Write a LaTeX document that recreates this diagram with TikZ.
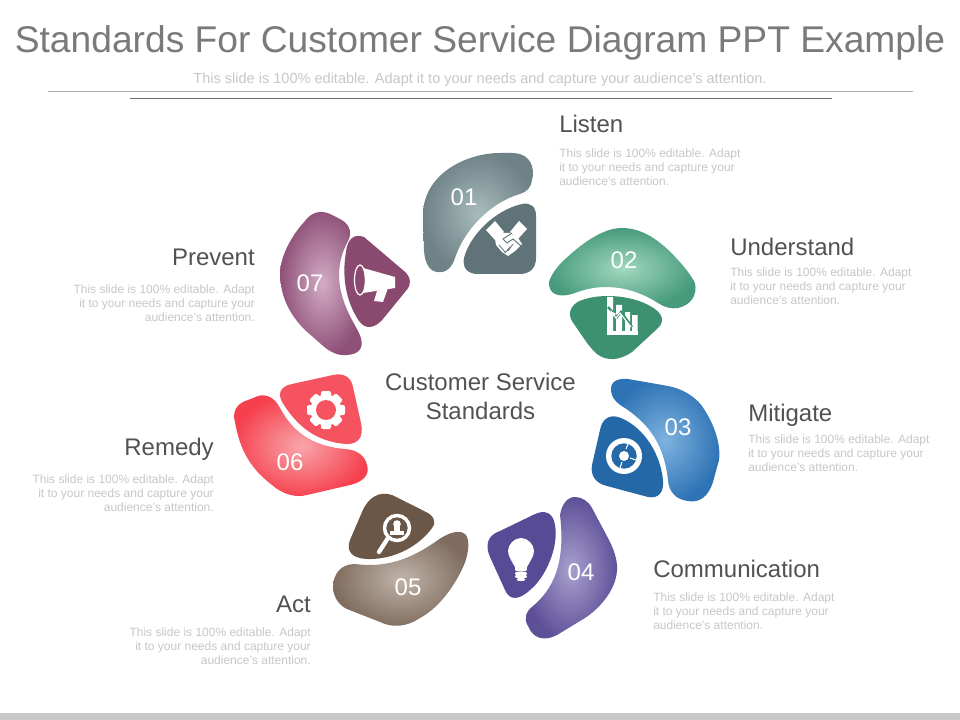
\documentclass[tikz,border=0pt]{standalone}
\usepackage{fontspec}
\usetikzlibrary{calc}
\setmainfont{Liberation Sans}
\definecolor{cA}{HTML}{5F7379}\definecolor{cAo}{HTML}{6E8288}\definecolor{cAi}{HTML}{A8BCBB}
\definecolor{cB}{HTML}{3D9070}\definecolor{cBo}{HTML}{479B7C}\definecolor{cBi}{HTML}{A3D8C0}
\definecolor{cC}{HTML}{2468A8}\definecolor{cCo}{HTML}{2E73B5}\definecolor{cCi}{HTML}{7FB2DF}
\definecolor{cD}{HTML}{574B95}\definecolor{cDo}{HTML}{5E5098}\definecolor{cDi}{HTML}{A9A0CE}
\definecolor{cE}{HTML}{6B5748}\definecolor{cEo}{HTML}{7F6C5E}\definecolor{cEi}{HTML}{C0B4A9}
\definecolor{cF}{HTML}{F4535F}\definecolor{cFo}{HTML}{F6404E}\definecolor{cFi}{HTML}{F8A6AB}
\definecolor{cG}{HTML}{8A4A70}\definecolor{cGo}{HTML}{8F5078}\definecolor{cGi}{HTML}{D2ADC4}
\tikzset{
  blob/.style={inner color=#1i,outer color=#1o},
  tile/.style={fill=#1},
  rnd/.style={to path={.. controls ($(\tikztostart)!0.62!#1$) and ($(\tikztotarget)!0.62!#1$) .. (\tikztotarget)}},
  num/.style={text=white,font=\fontsize{18}{20}\selectfont,inner sep=0pt},
  heading/.style={text=black!68,font=\fontsize{18}{20}\selectfont,inner sep=0pt},
  bodyl/.style={text=black!22,font=\fontsize{9}{10.5}\selectfont,inner sep=0pt,align=left,anchor=west},
  bodyr/.style={text=black!22,font=\fontsize{9}{10.5}\selectfont,inner sep=0pt,align=right,anchor=east},
}
\begin{document}
\begin{tikzpicture}[x=0.75pt,y=-0.75pt]
\useasboundingbox (0,0) rectangle (960,720);
\fill[white] (0,0) rectangle (960,720);
\fill[black!22] (0,713) rectangle (960,720);
\node[inner sep=0pt,text=black!52,font=\fontsize{27.9}{30}\selectfont] (title) at (480,42.5) {Standards For Customer Service Diagram PPT Example};
\node[inner sep=0pt,text=black!22,font=\fontsize{10.9}{12}\selectfont] (sub) at (480,79.5) {This slide is 100\% editable. Adapt it to your needs and capture your audience's attention.};
\draw[black!32,line width=0.6pt] (48,91.5) -- (913,91.5);
\draw[black!58,line width=0.7pt] (130,98.5) -- (832,98.5);
% 01
\path[blob=cA] (423,215) .. controls (423,175) and (465,153) .. (500,153) -- (512,153) to[rnd={(534,153)}] (533,175) -- (532,180) to[rnd={(531,191)}] (520,194) .. controls (492,202) and (465,228) .. (455,258) to[rnd={(450,274)}] (438,272) to[rnd={(425,272)}] (424,250) -- cycle;
\path[tile=cA] (522,204) to[rnd={(536,201)}] (536,216) -- (536,258) to[rnd={(536,274)}] (520,274) -- (478,274) to[rnd={(461,274)}] (464,258) .. controls (470,235) and (495,210) .. (522,204) -- cycle;
\node[num] (n1) at (464,197) {01};
% 02
\path[blob=cB] (549,282) to[rnd={(552,272)}] (562,262) .. controls (585,240) and (605,228) .. (622,228) .. controls (642,228) and (660,240) .. (678,260) to[rnd={(690,273)}] (695,283) to[rnd={(699,303)}] (678,308) to[rnd={(668,310)}] (658,303) .. controls (630,285) and (600,283) .. (575,293) to[rnd={(548,302)}] (549,282) -- cycle;
\path[tile=cB] (570,312) to[rnd={(572,303)}] (582,300) .. controls (605,292) and (635,297) .. (650,306) to[rnd={(671,317)}] (657,329) -- (632,352) to[rnd={(612,366)}] (597,354) to[rnd={(591,349)}] (585,340) -- (574,324) to[rnd={(569,318)}] (570,312) -- cycle;
\node[num] (n2) at (624,260) {02};
% 03
\path[blob=cC] (612,395) to[rnd={(606,377)}] (628,379) -- (668,386) to[rnd={(690,390)}] (702,406) .. controls (715,425) and (721,445) .. (719,460) -- (713,482) to[rnd={(706,505)}] (688,501) to[rnd={(669,499)}] (668,480) .. controls (664,445) and (650,425) .. (625,408) to[rnd={(614,402)}] (612,395) -- cycle;
\path[tile=cC] (592,465) -- (600,430) to[rnd={(603,413)}] (618,417) .. controls (640,424) and (660,450) .. (663,480) to[rnd={(665,500)}] (648,497) -- (607,486) to[rnd={(589,482)}] (592,465) -- cycle;
\node[num] (n3) at (678,427) {03};
% 04
\path[blob=cD] (560,515) to[rnd={(563,497)}] (575,497) to[rnd={(586,497)}] (592,508) -- (609,540) to[rnd={(618,557)}] (617,570) .. controls (616,590) and (600,608) .. (585,618) -- (557,635) to[rnd={(536,646)}] (528,626) to[rnd={(521,615)}] (533,606) .. controls (552,590) and (566,565) .. (560,515) -- cycle;
\path[tile=cD] (490,557) to[rnd={(481,537)}] (500,531) -- (533,515) to[rnd={(552,505)}] (555,525) .. controls (559,548) and (545,578) .. (530,590) to[rnd={(512,607)}] (505,590) -- (490,557) -- cycle;
\node[num] (n4) at (581,572) {04};
% 05
\path[blob=cE] (333,588) to[rnd={(333,564)}] (355,564) .. controls (385,568) and (410,560) .. (438,540) to[rnd={(458,526)}] (466,535) to[rnd={(472,545)}] (464,565) .. controls (452,592) and (435,610) .. (420,618) to[rnd={(400,632)}] (380,622) -- (347,609) to[rnd={(334,603)}] (333,588) -- cycle;
\path[tile=cE] (350,540) -- (362,512) to[rnd={(372,488)}] (392,495) -- (424,511) to[rnd={(440,518)}] (432,528) .. controls (420,545) and (395,560) .. (367,559) to[rnd={(343,558)}] (350,540) -- cycle;
\node[num] (n5) at (408,587) {05};
% 06
\path[blob=cF] (235,422) to[rnd={(230,405)}] (248,400) -- (258,396) to[rnd={(272,392)}] (280,408) .. controls (292,430) and (310,446) .. (345,449) to[rnd={(364,450)}] (367,465) to[rnd={(372,480)}] (350,485) -- (307,495) to[rnd={(289,500)}] (272,485) .. controls (250,468) and (240,450) .. (235,422) -- cycle;
\path[tile=cF] (292,384) -- (333,375) to[rnd={(350,371)}] (353,387) -- (361,423) to[rnd={(366,445)}] (346,444) .. controls (320,442) and (300,430) .. (284,405) to[rnd={(272,388)}] (292,384) -- cycle;
\node[num] (n6) at (290,462) {06};
% 07
\path[blob=cG] (280,272) .. controls (281,255) and (292,235) .. (305,221) to[rnd={(315,207)}] (330,214) -- (338,218) to[rnd={(356,226)}] (348,241) .. controls (335,265) and (336,290) .. (352,320) -- (359,333) to[rnd={(369,354)}] (347,355) to[rnd={(335,357)}] (322,345) -- (305,330) .. controls (285,310) and (280,290) .. (280,272) -- cycle;
\path[tile=cG] (346,252) to[rnd={(348,231)}] (364,237) -- (404,271) to[rnd={(416,281)}] (405,292) -- (383,319) to[rnd={(369,335)}] (359,321) .. controls (345,300) and (342,275) .. (346,252) -- cycle;
\node[num] (n7) at (310,283) {07};
% handshake icon
\fill[white] (486,230)--(495,221)--(504,232)--(495,240)--cycle;
\fill[white] (510,232)--(519,221)--(527,229)--(518,239)--cycle;
\fill[white] (495,239)--(503,233)--(510,233)--(518,238)--(522,244)--(515,251)--(508,256)--(502,252)--(496,245)--cycle;
\draw[cA,line width=0.7pt] (512,233)--(503,239)--(507,243)--(513,239)--(521,246);
\draw[cA,line width=0.6pt] (499,245)--(505,252) (510,247)--(505,253) (513,244)--(508,251);
% chart icon
\fill[white] (607,331)rectangle(638,334.5);
\fill[white] (607,297)rectangle(613,331) (616,305)rectangle(622,331) (625,312)rectangle(630,331) (632,315)rectangle(637.5,331);
\draw[cB,line width=1.8pt] (608,307)--(617,317)--(621,312)--(632,327);
\draw[white,line width=0.8pt,-latex] (631,327)--(620,313)--(616,318)--(610,310);
% target icon
\fill[white] (624,456) circle[radius=18];
\fill[cC] (624,456) circle[radius=12.7];
\fill[white] (624,456) circle[radius=5];
\draw[white,line width=0.8pt] (626,449)--(628,444) (630,458)--(636,460) (622,462)--(620,468);
% bulb icon
\fill[white] plot[smooth cycle,tension=0.7] coordinates {(521,538)(530,542)(534,551)(531,560)(527,567)(526,571)(516,571)(515,567)(511,560)(508,551)(512,542)};
\draw[white,line width=1.6pt,line cap=round] (516,573.5)--(526,573.5) (516,576.5)--(526,576.5) (518,579.5)--(524,579.5);
% magnifier icon
\draw[white,line width=2.6pt] (397,528) circle[radius=12.5];
\draw[white,line width=3.2pt,line cap=round] (388,538)--(379,552);
\fill[white] (397,524) circle[radius=3.8];
\fill[white] (390,531)rectangle(404,534.5);
\fill[white] (394,526)rectangle(400,531);
% gear icon
\foreach \a in {0,45,...,315}{\fill[white,rotate around={\a:(326,410)},rounded corners=1.5pt] (321,391) rectangle (331,400);}
\fill[white] (326,410) circle[radius=15.5];
\fill[cF] (326,410) circle[radius=10];
% megaphone icon
\draw[white,line width=0.9pt] (360,280) ellipse[x radius=5.5,y radius=15];
\fill[white] (363,268)--(395,277)--(395,288)--(363,293) to[bend right=15] (363,268)--cycle;
\fill[white] (377,291)--(388,288)--(383,302)--(374,301)--cycle;
% labels
\node[inner sep=0pt,text=black!68,font=\fontsize{18}{21.8}\selectfont,align=center] (center) at (480.5,396.5) {Customer Service\\Standards};
\node[heading,anchor=west] (l1) at (559,124) {Listen};
\node[bodyl] (b1) at (559,167) {This slide is 100\% editable. Adapt\\it to your needs and capture your\\audience's attention.};
\node[heading,anchor=west] (l2) at (730,247) {Understand};
\node[bodyl] (b2) at (730,286) {This slide is 100\% editable. Adapt\\it to your needs and capture your\\audience's attention.};
\node[heading,anchor=west] (l3) at (748,415) {Mitigate};
\node[bodyl] (b3) at (748,453) {This slide is 100\% editable. Adapt\\it to your needs and capture your\\audience's attention.};
\node[heading,anchor=west] (l4) at (653,569) {Communication};
\node[bodyl] (b4) at (653,611) {This slide is 100\% editable. Adapt\\it to your needs and capture your\\audience's attention.};
\node[heading,anchor=east] (l5) at (311,604) {Act};
\node[bodyr] (b5) at (311,646) {This slide is 100\% editable. Adapt\\it to your needs and capture your\\audience's attention.};
\node[heading,anchor=east] (l6) at (214,449) {Remedy};
\node[bodyr] (b6) at (214,493) {This slide is 100\% editable. Adapt\\it to your needs and capture your\\audience's attention.};
\node[heading,anchor=east] (l7) at (255,257) {Prevent};
\node[bodyr] (b7) at (255,303) {This slide is 100\% editable. Adapt\\it to your needs and capture your\\audience's attention.};
\end{tikzpicture}
\end{document}
